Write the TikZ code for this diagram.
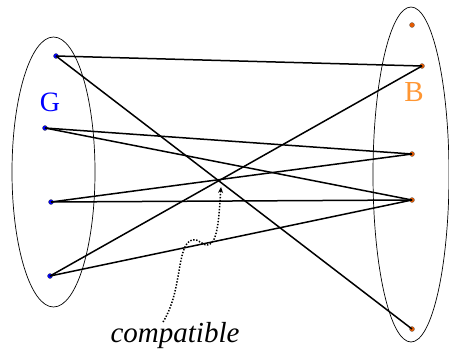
\documentclass[tikz,border=0pt]{standalone}
\usepackage{fontspec}
\setmainfont{Liberation Serif}
\usetikzlibrary{arrows.meta}
\definecolor{borange}{RGB}{255,150,50}
\definecolor{dorange}{RGB}{230,90,0}
\begin{document}
\begin{tikzpicture}[x=1pt,y=-1pt,
  gdot/.style={circle,fill=blue,draw=black!70,line width=0.3pt,inner sep=0pt,minimum size=5pt},
  bdot/.style={circle,fill=dorange,draw=black!60,line width=0.3pt,inner sep=0pt,minimum size=5pt},
  edge/.style={line width=1.5pt,black},
  setell/.style={draw=black,line width=0.7pt}]
\useasboundingbox (0,0) rectangle (449,351);
\draw[setell] (53.5,172) ellipse [x radius=41.5, y radius=135];
\draw[setell] (411,174.5) ellipse [x radius=38, y radius=167.5];
\node (g1) [gdot] at (56,56) {};
\node (g2) [gdot] at (45,128) {};
\node (g3) [gdot] at (51,202) {};
\node (g4) [gdot] at (50,276) {};
\node (b0) [bdot] at (412,25) {};
\node (b1) [bdot] at (422,66) {};
\node (b2) [bdot] at (412,154) {};
\node (b3) [bdot] at (412,200) {};
\node (b4) [bdot] at (412,329) {};
\draw[edge] (g1.center) -- (b1.center);
\draw[edge] (g1.center) -- (b4.center);
\draw[edge] (g2.center) -- (b2.center);
\draw[edge] (g2.center) -- (b3.center);
\draw[edge] (g3.center) -- (b2.center);
\draw[edge] (g3.center) -- (b3.center);
\draw[edge] (g4.center) -- (b1.center);
\draw[edge] (g4.center) -- (b3.center);
\node (lg) [text=blue,font=\fontsize{28}{28}\selectfont,inner sep=0pt] at (50,102) {G};
\node (lb) [text=borange,font=\fontsize{29}{29}\selectfont,inner sep=0pt] at (414,92.5) {B};
\node (comp) [font=\itshape\fontsize{29}{29}\selectfont,inner sep=0pt,anchor=base] at (175,342) {compatible};
\coordinate (tip) at (221,187);
\draw[line width=1.5pt,dash pattern=on 1.4pt off 1.6pt,-{Stealth[length=6pt,width=5pt,open]}]
  (163,322) .. controls (183,290) and (176,245) .. (192,240)
  .. controls (200,238) and (203,248) .. (210,244)
  .. controls (218,240) and (219,215) .. (tip);
\end{tikzpicture}
\end{document}
